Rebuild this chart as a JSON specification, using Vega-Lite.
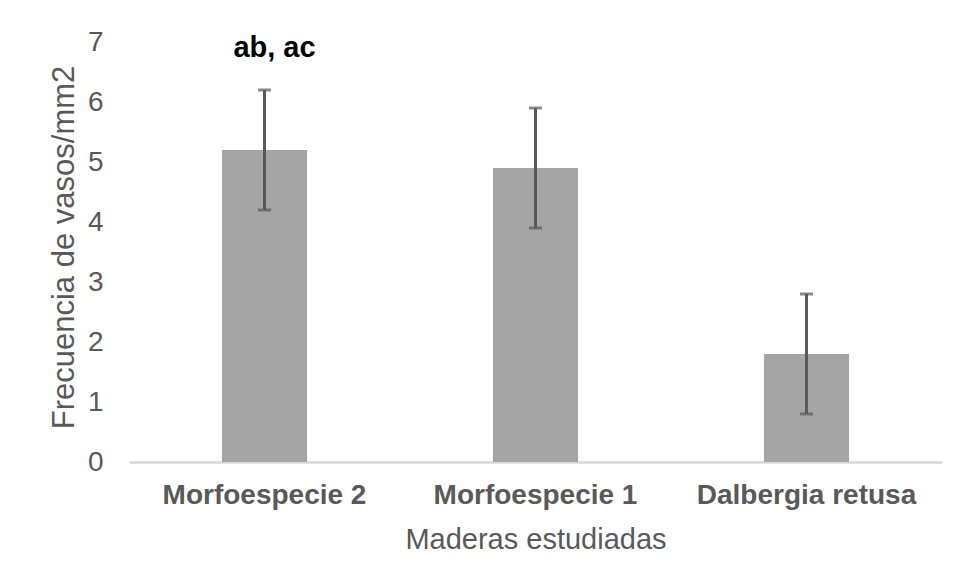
{
  "$schema": "https://vega.github.io/schema/vega-lite/v6.json",
  "autosize": "none",
  "width": 813,
  "height": 420,
  "padding": {"left": 129, "top": 42, "right": 18, "bottom": 120},
  "background": "white",
  "config": {
    "view": {"stroke": null},
    "font": "Liberation Sans"
  },
  "data": {
    "values": [
      {"madera": "Morfoespecie 2", "frecuencia": 5.2, "lo": 4.2, "hi": 6.2, "nota": "ab, ac", "nota_y": 7},
      {"madera": "Morfoespecie 1", "frecuencia": 4.9, "lo": 3.9, "hi": 5.9, "nota": "", "nota_y": 7},
      {"madera": "Dalbergia retusa", "frecuencia": 1.8, "lo": 0.8, "hi": 2.8, "nota": "", "nota_y": 7}
    ]
  },
  "encoding": {
    "x": {
      "field": "madera",
      "type": "nominal",
      "sort": null,
      "scale": {"paddingInner": 0.686, "paddingOuter": 0.343},
      "axis": {
        "title": "Maderas estudiadas",
        "labelAngle": 0,
        "labelLimit": 0,
        "labelFont": "Liberation Sans",
        "labelFontWeight": "bold",
        "labelFontSize": 28,
        "labelColor": "#595959",
        "labelPadding": 19,
        "ticks": false,
        "tickSize": 0,
        "domainColor": "#d9d9d9",
        "domainWidth": 2.5,
        "titleFont": "Liberation Sans",
        "titleFontWeight": "normal",
        "titleFontSize": 29,
        "titleColor": "#595959",
        "titleBaseline": "alphabetic",
        "titleY": 86,
        "grid": false
      }
    }
  },
  "layer": [
    {
      "mark": {"type": "bar", "color": "#a5a5a5"},
      "encoding": {
        "y": {
          "field": "frecuencia",
          "type": "quantitative",
          "scale": {"domain": [0, 7], "nice": false},
          "axis": {
            "title": "Frecuencia de vasos/mm2",
            "values": [0, 1, 2, 3, 4, 5, 6, 7],
            "format": "d",
            "grid": false,
            "domain": false,
            "ticks": false,
            "tickSize": 0,
            "labelPadding": 26,
            "labelFont": "Liberation Sans",
            "labelFontSize": 28,
            "labelColor": "#595959",
            "titleFont": "Liberation Sans",
            "titleFontWeight": "normal",
            "titleFontSize": 31,
            "titleColor": "#595959",
            "titleAngle": -90,
            "titleAlign": "center",
            "titleBaseline": "middle",
            "titleX": -65,
            "titleY": 205
          }
        }
      }
    },
    {
      "mark": {"type": "rule", "color": "#595959", "strokeWidth": 3},
      "encoding": {
        "y": {"field": "lo", "type": "quantitative"},
        "y2": {"field": "hi"}
      }
    },
    {
      "mark": {"type": "tick", "color": "#595959", "size": 13, "thickness": 3},
      "encoding": {
        "y": {"field": "lo", "type": "quantitative"}
      }
    },
    {
      "mark": {"type": "tick", "color": "#595959", "size": 13, "thickness": 3},
      "encoding": {
        "y": {"field": "hi", "type": "quantitative"}
      }
    },
    {
      "mark": {"type": "text", "font": "Liberation Sans", "fontWeight": "bold", "fontSize": 29, "color": "#000000", "baseline": "alphabetic", "align": "center", "dx": 10, "dy": 15},
      "encoding": {
        "y": {"field": "nota_y", "type": "quantitative"},
        "text": {"field": "nota", "type": "nominal"}
      }
    }
  ]
}
